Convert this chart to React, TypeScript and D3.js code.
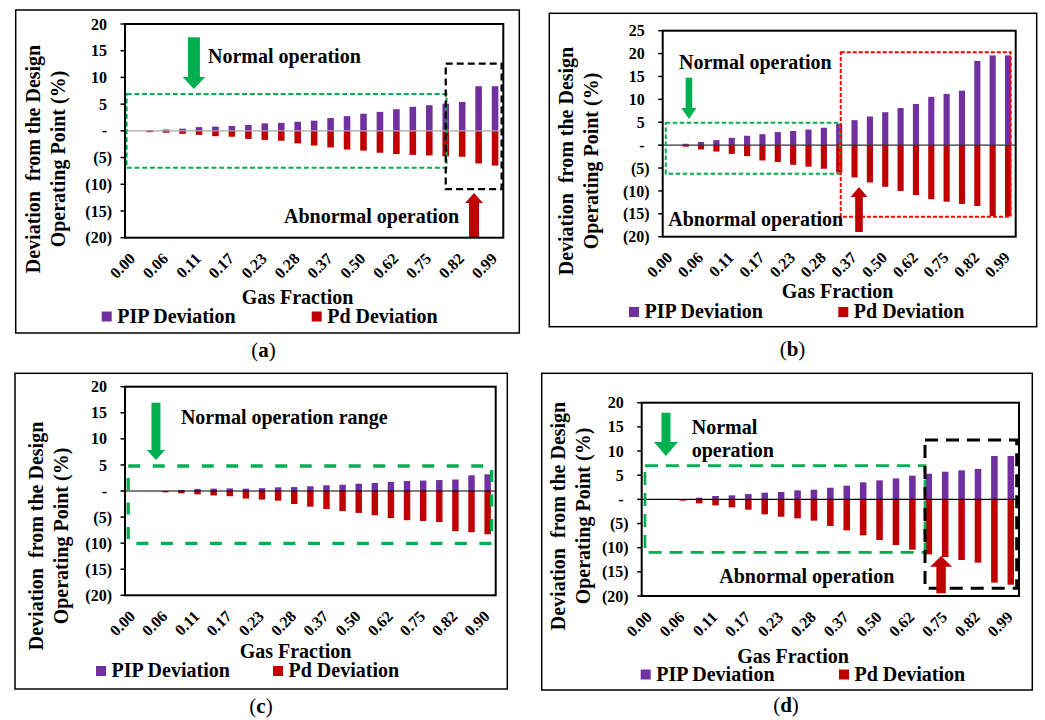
import React from "react";
import * as d3 from "d3";

// ---------- DATA ----------
const tickLabelsA = ["0.00","0.06","0.11","0.17","0.23","0.28","0.37","0.50","0.62","0.75","0.82","0.99"];
const tickLabelsB = ["0.00","0.06","0.11","0.17","0.23","0.28","0.37","0.50","0.62","0.75","0.82","0.99"];
const tickLabelsC = ["0.00","0.06","0.11","0.17","0.23","0.28","0.37","0.50","0.62","0.75","0.82","0.90"];
const tickLabelsD = ["0.00","0.06","0.11","0.17","0.23","0.28","0.37","0.50","0.62","0.75","0.82","0.99"];

const pipA = [0, 0.1, 0.25, 0.4, 0.7, 0.8, 0.9, 1.1, 1.4, 1.5, 1.7, 1.9, 2.4, 2.75, 3.2, 3.55, 4.05, 4.5, 4.8, 5.1, 5.4, 8.35, 8.35];
const pdA = [0, -0.25, -0.35, -0.55, -0.75, -1.0, -1.1, -1.5, -1.7, -1.85, -2.35, -2.75, -3.1, -3.5, -3.7, -4.1, -4.35, -4.5, -4.6, -4.75, -4.85, -6.1, -6.5];

const pipB = [0, 0.3, 0.7, 1.1, 1.6, 2.05, 2.4, 2.85, 3.1, 3.4, 3.8, 4.65, 5.45, 6.25, 7.2, 8.1, 9.0, 10.55, 11.2, 11.9, 18.4, 19.6, 19.6];
const pdB = [0, -0.35, -0.95, -1.4, -1.9, -2.4, -3.35, -3.7, -4.3, -4.7, -5.15, -6.0, -7.05, -8.15, -9.1, -10.0, -10.9, -11.8, -12.35, -12.85, -13.3, -15.5, -15.5];

const pipC = [0, 0, 0, 0.2, 0.4, 0.45, 0.5, 0.45, 0.55, 0.7, 0.75, 0.9, 1.1, 1.2, 1.4, 1.55, 1.75, 1.9, 2.0, 2.1, 2.2, 3.0, 3.2];
const pdC = [0, 0, -0.25, -0.45, -0.65, -0.85, -1.0, -1.45, -1.65, -1.85, -2.5, -3.0, -3.45, -3.85, -4.2, -4.65, -5.2, -5.6, -5.75, -5.95, -7.7, -7.9, -8.3];

const pipD = [0, 0, 0, 0.34, 0.69, 0.83, 1.1, 1.38, 1.52, 1.86, 2.0, 2.41, 2.83, 3.52, 3.93, 4.34, 4.9, 5.31, 5.72, 6.0, 6.28, 8.97, 8.97];
const pdD = [0, 0, -0.28, -0.83, -1.24, -1.66, -2.14, -3.1, -3.59, -3.93, -4.41, -5.52, -6.41, -7.45, -8.41, -9.45, -10.41, -11.38, -11.93, -12.55, -13.1, -17.24, -17.66];

const yTicks40 = [-20, -15, -10, -5, 0, 5, 10, 15, 20];
const yTicks45 = [-20, -15, -10, -5, 0, 5, 10, 15, 20, 25];

const seriesNames = ["PIP Deviation", "Pd Deviation"];
const yTitleLines = ["Deviation  from the Design", "Operating Point (%)"];
const xTitleText = "Gas Fraction";

// ---------- STYLE ----------
const PURPLE = "#7030a0";
const RED = "#c00000";
const GREEN = "#00b050";
const FONT = "'Liberation Serif', 'Times New Roman', serif";

type Rect = { x0: number; x1: number; y0: number; y1: number; color: string; dash: string; w: number };
type Arrow = { x: number; tip: number; base: number; tail: number; head: number; shaft: number; color: string };
type Txt = { x: number; y: number; text: string };
type PanelCfg = {
  frame: number[]; plot: number[]; yDomain: number[]; yTicks: number[];
  pip: number[]; pd: number[]; tickLabels: string[]; zeroColor: string;
  yTitle: { l1: number; l2: number; cy: number };
  xTitle: { cx: number; y: number };
  legend: { y: number; pipX: number; pdX: number };
  caption: { cx: number; y: number; letter: string };
  rects: Rect[]; arrows: Arrow[]; texts: Txt[];
};

const panels: PanelCfg[] = [
  {
    frame: [15.7, 10, 519.3, 333], plot: [125, 24, 503.3, 237.7], yDomain: [-20, 20], yTicks: yTicks40,
    pip: pipA, pd: pdA, tickLabels: tickLabelsA, zeroColor: "#a6a6a6",
    yTitle: { l1: 40, l2: 65, cy: 159 }, xTitle: { cx: 297.5, y: 303.5 },
    legend: { y: 322.5, pipX: 101.7, pdX: 311.7 }, caption: { cx: 263.5, y: 357, letter: "a" },
    rects: [
      { x0: 0.1, x1: 19.55, y0: -6.9, y1: 6.9, color: GREEN, dash: "5 2.7", w: 2 },
      { x0: 19.5, x1: 22.9, y0: -10.9, y1: 12.6, color: "#000", dash: "7 4", w: 2.3 },
    ],
    arrows: [
      { x: 4.19, tip: 7.83, base: 10.08, tail: 17.5, head: 11.3, shaft: 6, color: GREEN },
      { x: 21.22, tip: -11.63, base: -13.5, tail: -20, head: 9, shaft: 5, color: RED },
    ],
    texts: [
      { x: 5.05, y: 12.64, text: "Normal operation" },
      { x: 9.67, y: -17.3, text: "Abnormal operation" },
    ],
  },
  {
    frame: [549.3, 13.3, 1036.7, 326.7], plot: [662.7, 30.7, 1015.7, 236.7], yDomain: [-20, 25], yTicks: yTicks45,
    pip: pipB, pd: pdB, tickLabels: tickLabelsB, zeroColor: "#333",
    yTitle: { l1: 573.3, l2: 598, cy: 161 }, xTitle: { cx: 837.5, y: 298 },
    legend: { y: 318, pipX: 629, pdX: 838.3 }, caption: { cx: 792.5, y: 356, letter: "b" },
    rects: [
      { x0: 0.2, x1: 11.55, y0: -6.24, y1: 4.9, color: GREEN, dash: "4.5 2.5", w: 2 },
      { x0: 11.6, x1: 22.67, y0: -15.63, y1: 20.28, color: "#ff0000", dash: "4 2", w: 2 },
    ],
    arrows: [
      { x: 1.71, tip: 5.71, base: 8.11, tail: 14.73, head: 7.5, shaft: 3.3, color: GREEN },
      { x: 12.79, tip: -9.14, base: -11.33, tail: -18.97, head: 8.5, shaft: 3.8, color: RED },
    ],
    texts: [
      { x: 1.06, y: 16.66, text: "Normal operation" },
      { x: 0.36, y: -17.64, text: "Abnormal operation" },
    ],
  },
  {
    frame: [15, 373.3, 507.3, 689], plot: [125, 386.7, 495.7, 595.3], yDomain: [-20, 20], yTicks: yTicks40,
    pip: pipC, pd: pdC, tickLabels: tickLabelsC, zeroColor: "#000",
    yTitle: { l1: 42.7, l2: 68.3, cy: 536 }, xTitle: { cx: 295.5, y: 658 },
    legend: { y: 677, pipX: 96, pdX: 273 }, caption: { cx: 261, y: 713, letter: "c" },
    rects: [
      { x0: 0.2, x1: 22.75, y0: -10.03, y1: 4.79, color: GREEN, dash: "12 12.5", w: 3.3 },
    ],
    arrows: [
      { x: 1.92, tip: 5.94, base: 7.86, tail: 16.93, head: 9.2, shaft: 4.5, color: GREEN },
    ],
    texts: [{ x: 3.47, y: 12.79, text: "Normal operation range" }],
  },
  {
    frame: [541.7, 373.3, 1032.3, 690], plot: [641.7, 402.7, 1019, 596], yDomain: [-20, 20], yTicks: yTicks40,
    pip: pipD, pd: pdD, tickLabels: tickLabelsD, zeroColor: "#000",
    yTitle: { l1: 565, l2: 590, cy: 516 }, xTitle: { cx: 793, y: 662.7 },
    legend: { y: 680.5, pipX: 640.7, pdX: 839 }, caption: { cx: 786, y: 712, letter: "d" },
    rects: [
      { x0: 0.2, x1: 17.27, y0: -10.96, y1: 6.96, color: GREEN, dash: "13 8", w: 2.7 },
      { x0: 17.27, x1: 22.86, y0: -18.41, y1: 12.28, color: "#000", dash: "13 8", w: 3 },
    ],
    arrows: [
      { x: 1.48, tip: 8.97, base: 11.87, tail: 17.93, head: 12, shaft: 4.5, color: GREEN },
      { x: 18.25, tip: -11.72, base: -13.94, tail: -19.44, head: 11, shaft: 4.7, color: RED },
    ],
    texts: [
      { x: 3.05, y: 13.54, text: "Normal" },
      { x: 3.05, y: 8.85, text: "operation" },
      { x: 4.73, y: -17.23, text: "Abnormal operation" },
    ],
  },
];

function fmt(v: number) {
  if (v === 0) return "-";
  return v < 0 ? `(${-v})` : String(v);
}

function Panel({ cfg }: { cfg: PanelCfg }) {
  const [L, T, R, B] = cfg.plot;
  const n = cfg.pip.length;
  const idx = d3.range(n);
  const x = d3.scaleBand<number>().domain(idx).range([L, R]).paddingInner(0.6).paddingOuter(0.3);
  const xi = d3.scaleLinear().domain([0, n]).range([L, R]);
  const y = d3.scaleLinear().domain(cfg.yDomain).range([B, T]);
  const y0 = y(0);
  const [fx0, fy0, fx1, fy1] = cfg.frame;

  const arrowPath = (a: Arrow) => {
    const cx = xi(a.x);
    const tip = y(a.tip), base = y(a.base), tail = y(a.tail);
    return `M${cx},${tip}L${cx + a.head},${base}L${cx + a.shaft},${base}L${cx + a.shaft},${tail}L${cx - a.shaft},${tail}L${cx - a.shaft},${base}L${cx - a.head},${base}Z`;
  };

  return (
    <g fontFamily={FONT} fontWeight="bold" fill="#000">
      <rect x={fx0} y={fy0} width={fx1 - fx0} height={fy1 - fy0} fill="none" stroke="#000" strokeWidth={1.5} />
      {/* bars */}
      {idx.map((i) => (
        <g key={i}>
          {cfg.pip[i] > 0 && (
            <rect x={x(i)} width={x.bandwidth()} y={y(cfg.pip[i])} height={y0 - y(cfg.pip[i])} fill={PURPLE} />
          )}
          {cfg.pd[i] < 0 && (
            <rect x={x(i)} width={x.bandwidth()} y={y0} height={y(cfg.pd[i]) - y0} fill={RED} />
          )}
        </g>
      ))}
      <line x1={L} x2={R} y1={y0} y2={y0} stroke={cfg.zeroColor} strokeWidth={1.2} />
      {/* annotations */}
      {cfg.rects.map((r, k) => (
        <rect key={k} x={xi(r.x0)} y={y(r.y1)} width={xi(r.x1) - xi(r.x0)} height={y(r.y0) - y(r.y1)}
          fill="none" stroke={r.color} strokeWidth={r.w} strokeDasharray={r.dash} />
      ))}
      {cfg.arrows.map((a, k) => (
        <path key={k} d={arrowPath(a)} fill={a.color} />
      ))}
      {cfg.texts.map((t, k) => (
        <text key={k} x={xi(t.x)} y={y(t.y)} fontSize={20} style={{ whiteSpace: "pre" }}>{t.text}</text>
      ))}
      {/* plot border */}
      <rect x={L} y={T} width={R - L} height={B - T} fill="none" stroke="#000" strokeWidth={2} />
      {/* y ticks */}
      {cfg.yTicks.map((v) => (
        <g key={v}>
          <line x1={L - 4.5} x2={L} y1={y(v)} y2={y(v)} stroke="#000" strokeWidth={1.5} />
          <text x={v < 0 ? L - 13 : L - 18} y={y(v)} dy="0.35em" textAnchor="end" fontSize={16}>{fmt(v)}</text>
        </g>
      ))}
      {/* x tick labels */}
      {cfg.tickLabels.map((lab, k) => {
        const cx = (x(k * 2) as number) + x.bandwidth() / 2 + 3;
        const cy = B + 22;
        return (
          <text key={k} x={cx} y={cy} textAnchor="end" fontSize={16} transform={`rotate(-45 ${cx} ${cy})`}>{lab}</text>
        );
      })}
      {/* axis titles */}
      {yTitleLines.map((line, k) => {
        const tx = k === 0 ? cfg.yTitle.l1 : cfg.yTitle.l2;
        return (
          <text key={k} x={tx} y={cfg.yTitle.cy} textAnchor="middle" fontSize={20}
            transform={`rotate(-90 ${tx} ${cfg.yTitle.cy})`} style={{ whiteSpace: "pre" }}>{line}</text>
        );
      })}
      <text x={cfg.xTitle.cx} y={cfg.xTitle.y} textAnchor="middle" fontSize={20}>{xTitleText}</text>
      {/* legend */}
      {[cfg.legend.pipX, cfg.legend.pdX].map((lx, k) => (
        <g key={k}>
          <rect x={lx} y={cfg.legend.y - 11} width={10} height={10} fill={k === 0 ? PURPLE : RED} />
          <text x={lx + 15.5} y={cfg.legend.y} fontSize={20}>{seriesNames[k]}</text>
        </g>
      ))}
      {/* caption */}
      <text x={cfg.caption.cx} y={cfg.caption.y} textAnchor="middle" fontSize={21} fontWeight="normal">
        (<tspan fontWeight="bold">{cfg.caption.letter}</tspan>)
      </text>
    </g>
  );
}

export default function App() {
  return (
    <svg width={1045} height={720} style={{ position: "absolute", left: 0, top: 0, background: "#fff" }}>
      <rect width={1045} height={720} fill="#fff" />
      {panels.map((p, i) => (
        <Panel key={i} cfg={p} />
      ))}
    </svg>
  );
}
